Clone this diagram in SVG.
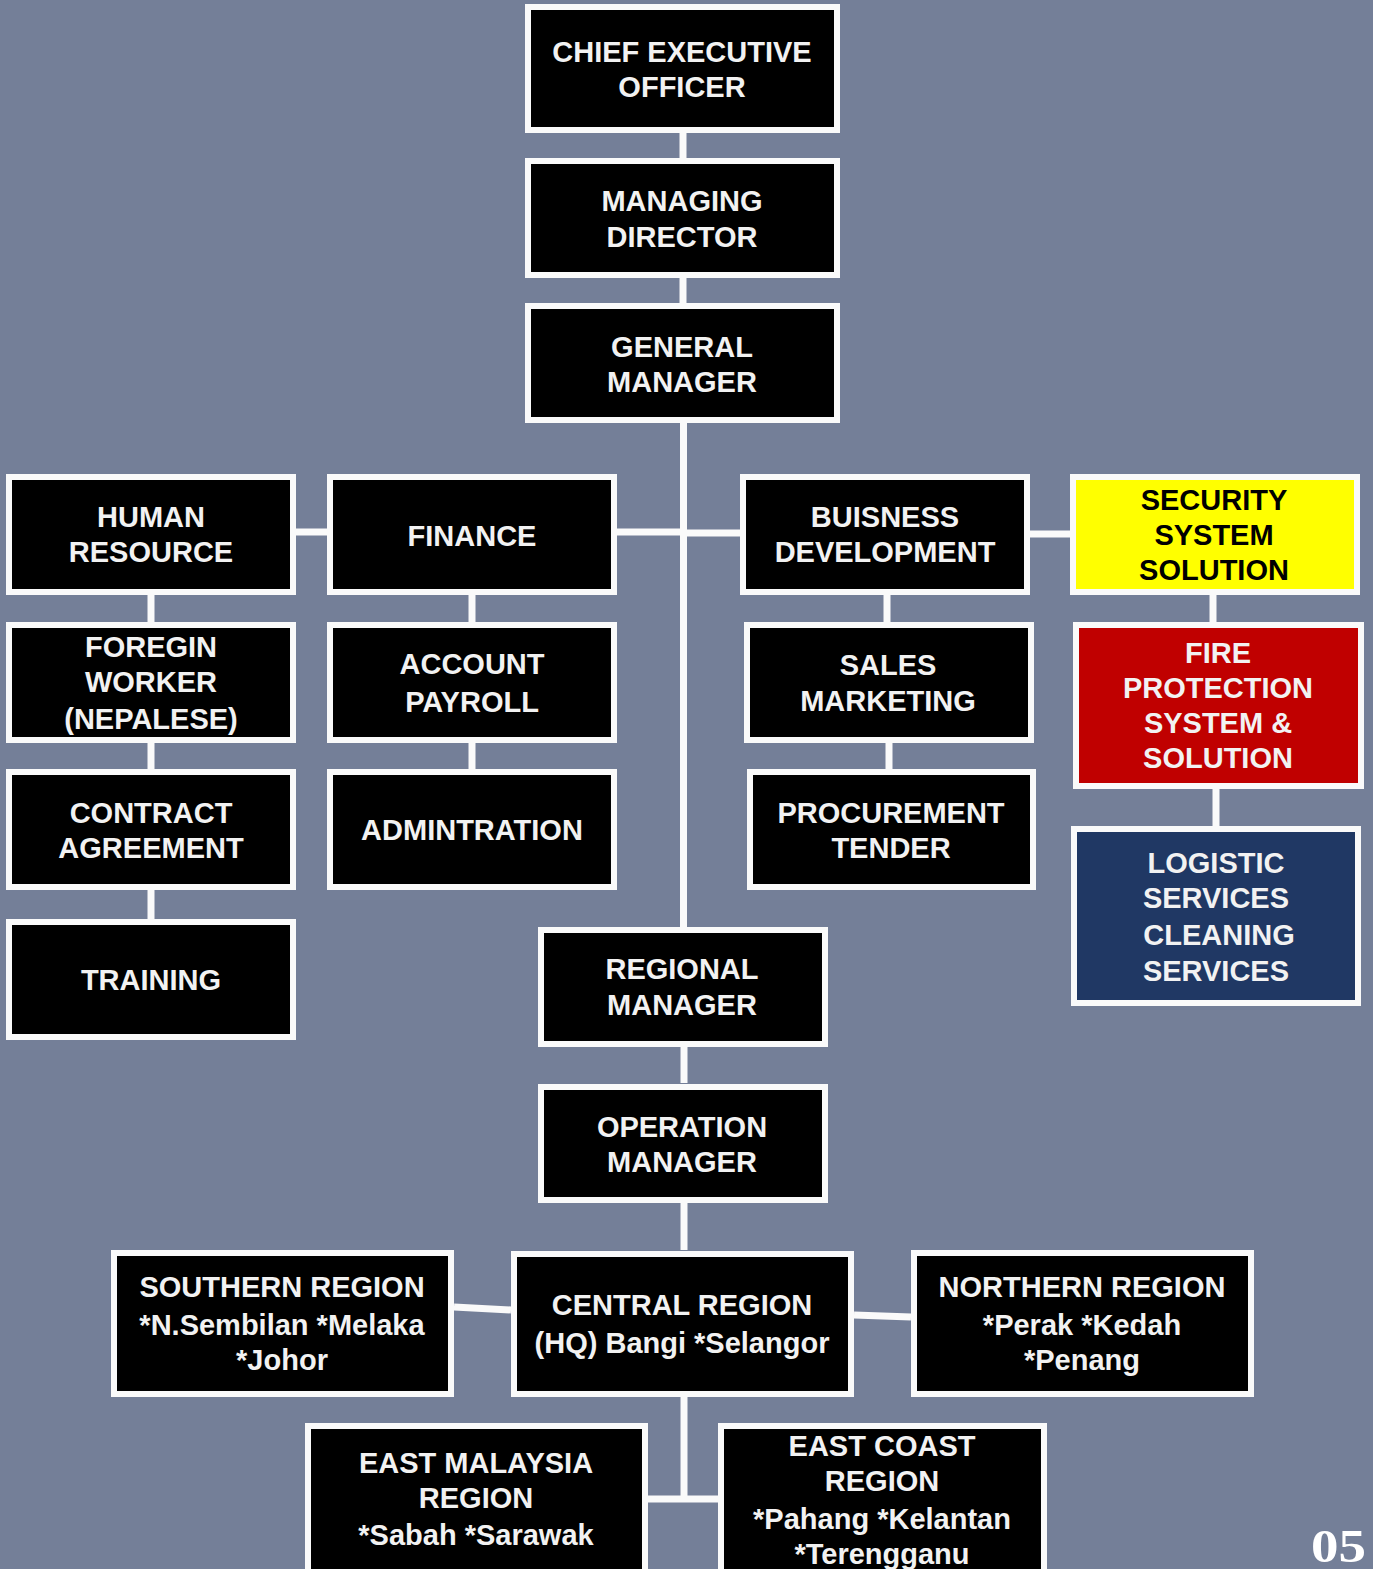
<svg xmlns="http://www.w3.org/2000/svg" width="1373" height="1569" viewBox="0 0 1373 1569">
<style>
.bg{fill:#747f98}
.box{fill:#000;stroke:#fafafa;stroke-width:6}
.yel{fill:#ffff00}
.red{fill:#c00000}
.blue{fill:#203864}
.t{font-family:"Liberation Sans",Arial,sans-serif;font-weight:bold;font-size:29px;fill:#f2f2f2;text-anchor:middle}
.dk{fill:#000}
.c{stroke:#fafafa;stroke-width:7;fill:none}
.pg{font-family:"Liberation Serif","Times New Roman",serif;font-weight:bold;font-size:46px;fill:#fff}
</style>
<rect class="bg" x="0" y="0" width="1373" height="1569"/>
<g id="connectors">
<line class="c" x1="683" y1="133" x2="683" y2="158"/>
<line class="c" x1="683" y1="278" x2="683" y2="303"/>
<line class="c" x1="683.5" y1="423" x2="683.5" y2="927"/>
<line class="c" x1="617" y1="532" x2="683" y2="532"/>
<line class="c" x1="683" y1="533" x2="740" y2="533"/>
<line class="c" x1="296" y1="532" x2="327" y2="532"/>
<line class="c" x1="1030" y1="534" x2="1070" y2="534"/>
<line class="c" x1="151" y1="595" x2="151" y2="622"/>
<line class="c" x1="151" y1="743" x2="151" y2="769"/>
<line class="c" x1="151" y1="890" x2="151" y2="919"/>
<line class="c" x1="472" y1="595" x2="472" y2="622"/>
<line class="c" x1="472" y1="743" x2="472" y2="769"/>
<line class="c" x1="887" y1="595" x2="887" y2="622"/>
<line class="c" x1="889" y1="743" x2="889" y2="769"/>
<line class="c" x1="1213" y1="595" x2="1213" y2="622"/>
<line class="c" x1="1216" y1="789" x2="1216" y2="826"/>
<line class="c" x1="684" y1="1047" x2="684" y2="1083"/>
<line class="c" x1="684" y1="1203" x2="684" y2="1250"/>
<line class="c" x1="454" y1="1307" x2="511" y2="1310"/>
<line class="c" x1="854" y1="1315" x2="911" y2="1317"/>
<line class="c" x1="684" y1="1397" x2="684" y2="1499"/>
<line class="c" x1="648" y1="1499" x2="718" y2="1499"/>
</g>
<g id="ceo"><rect class="box" x="528" y="7" width="309" height="123"/>
<text class="t" x="682" y="62">CHIEF EXECUTIVE</text><text class="t" x="682" y="97">OFFICER</text></g>
<g id="md"><rect class="box" x="528" y="161" width="309" height="114"/>
<text class="t" x="682" y="211">MANAGING</text><text class="t" x="682" y="247">DIRECTOR</text></g>
<g id="gm"><rect class="box" x="528" y="306" width="309" height="114"/>
<text class="t" x="682" y="357">GENERAL</text><text class="t" x="682" y="392">MANAGER</text></g>
<g id="hr"><rect class="box" x="9" y="477" width="284" height="115"/>
<text class="t" x="151" y="527">HUMAN</text><text class="t" x="151" y="562">RESOURCE</text></g>
<g id="finance"><rect class="box" x="330" y="477" width="284" height="115"/>
<text class="t" x="472" y="546">FINANCE</text></g>
<g id="bd"><rect class="box" x="743" y="477" width="284" height="115"/>
<text class="t" x="885" y="527">BUISNESS</text><text class="t" x="885" y="562">DEVELOPMENT</text></g>
<g id="security"><rect class="box yel" x="1073" y="477" width="284" height="115"/>
<text class="t dk" x="1214" y="510">SECURITY</text><text class="t dk" x="1214" y="545">SYSTEM</text><text class="t dk" x="1214" y="580">SOLUTION</text></g>
<g id="foregin"><rect class="box" x="9" y="625" width="284" height="115"/>
<text class="t" x="151" y="657">FOREGIN</text><text class="t" x="151" y="692">WORKER</text><text class="t" x="151" y="729">(NEPALESE)</text></g>
<g id="account"><rect class="box" x="330" y="625" width="284" height="115"/>
<text class="t" x="472" y="674">ACCOUNT</text><text class="t" x="472" y="712">PAYROLL</text></g>
<g id="sales"><rect class="box" x="747" y="625" width="284" height="115"/>
<text class="t" x="888" y="675">SALES</text><text class="t" x="888" y="711">MARKETING</text></g>
<g id="fire"><rect class="box red" x="1076" y="625" width="285" height="161"/>
<text class="t" x="1218" y="663">FIRE</text><text class="t" x="1218" y="698">PROTECTION</text><text class="t" x="1218" y="733">SYSTEM &amp;</text><text class="t" x="1218" y="768">SOLUTION</text></g>
<g id="contract"><rect class="box" x="9" y="772" width="284" height="115"/>
<text class="t" x="151" y="823">CONTRACT</text><text class="t" x="151" y="858">AGREEMENT</text></g>
<g id="admin"><rect class="box" x="330" y="772" width="284" height="115"/>
<text class="t" x="472" y="840">ADMINTRATION</text></g>
<g id="procurement"><rect class="box" x="750" y="772" width="283" height="115"/>
<text class="t" x="891" y="823">PROCUREMENT</text><text class="t" x="891" y="858">TENDER</text></g>
<g id="logistic"><rect class="box blue" x="1074" y="829" width="284" height="174"/>
<text class="t" x="1216" y="873">LOGISTIC</text><text class="t" x="1216" y="908">SERVICES</text><text class="t" x="1219" y="945">CLEANING</text><text class="t" x="1216" y="981">SERVICES</text></g>
<g id="training"><rect class="box" x="9" y="922" width="284" height="115"/>
<text class="t" x="151" y="990">TRAINING</text></g>
<g id="regional"><rect class="box" x="541" y="930" width="284" height="114"/>
<text class="t" x="682" y="979">REGIONAL</text><text class="t" x="682" y="1015">MANAGER</text></g>
<g id="operation"><rect class="box" x="541" y="1087" width="284" height="113"/>
<text class="t" x="682" y="1137">OPERATION</text><text class="t" x="682" y="1172">MANAGER</text></g>
<g id="southern"><rect class="box" x="114" y="1253" width="337" height="141"/>
<text class="t" x="282" y="1297">SOUTHERN REGION</text><text class="t" x="282" y="1335">*N.Sembilan *Melaka</text><text class="t" x="282" y="1370">*Johor</text></g>
<g id="central"><rect class="box" x="514" y="1254" width="337" height="140"/>
<text class="t" x="682" y="1315">CENTRAL REGION</text><text class="t" x="682" y="1353">(HQ) Bangi *Selangor</text></g>
<g id="northern"><rect class="box" x="914" y="1253" width="337" height="141"/>
<text class="t" x="1082" y="1297">NORTHERN REGION</text><text class="t" x="1082" y="1335">*Perak *Kedah</text><text class="t" x="1082" y="1370">*Penang</text></g>
<g id="eastmalaysia"><rect class="box" x="308" y="1426" width="337" height="160"/>
<text class="t" x="476" y="1473">EAST MALAYSIA</text><text class="t" x="476" y="1508">REGION</text><text class="t" x="476" y="1545">*Sabah *Sarawak</text></g>
<g id="eastcoast"><rect class="box" x="721" y="1426" width="323" height="160"/>
<text class="t" x="882" y="1456">EAST COAST</text><text class="t" x="882" y="1491">REGION</text><text class="t" x="882" y="1529">*Pahang *Kelantan</text><text class="t" x="882" y="1564">*Terengganu</text></g>
<text class="pg" x="1311" y="1562" textLength="55" lengthAdjust="spacingAndGlyphs">05</text>
</svg>
